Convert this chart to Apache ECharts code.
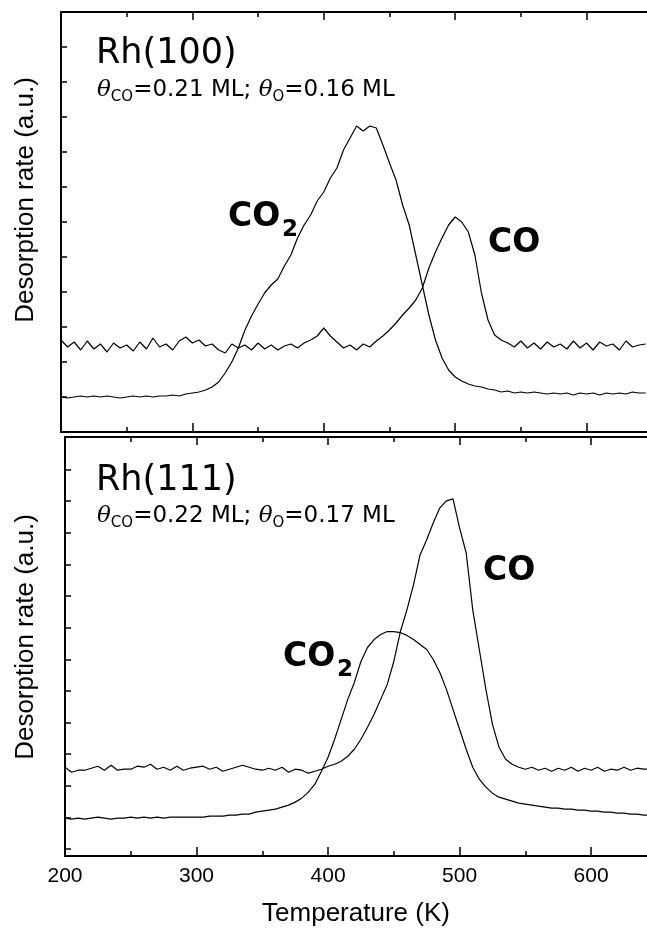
<!DOCTYPE html>
<html>
<head>
<meta charset="utf-8">
<script src="https://cdn.jsdelivr.net/npm/echarts@6/dist/echarts.min.js"></script>
<style>
html,body{margin:0;padding:0;background:#fff;}
#chart{width:647px;height:928px;}
</style>
</head>
<body>
<div id="chart"></div>
<script>
// temperature grid (K)
const temps = [
  200,205,210,215,220,225,230,235,240,245,
  250,255,260,265,270,275,280,285,290,295,
  300,305,310,315,320,325,330,335,340,345,
  350,355,360,365,370,375,380,385,390,395,
  400,405,410,415,420,425,430,435,440,445,
  450,455,460,465,470,475,480,485,490,495,
  500,505,510,515,520,525,530,535,540,545,
  550,555,560,565,570,575,580,585,590,595,
  600,605,610,615,620,625,630,635,640,645
]

// Rh(100) panel, a.u.
const rh100_co2 = [
  35,34,35,36,35,36,35,36,35,34,
  35,36,35,36,35,36,36,37,36,38,
  39,40,42,45,50,59,70,84,102,116,
  128,139,147,153,166,177,194,207,217,231,
  240,254,264,282,294,306,301,306,304,287,
  269,252,227,207,177,147,117,92,74,62,
  55,51,48,46,45,43,42,40,41,39,
  40,39,40,39,38,39,38,39,37,39,
  38,39,37,39,38,39,38,40,39,39
]
const rh100_co = [
  92,85,90,82,91,83,88,80,89,84,
  87,81,90,83,94,85,88,82,91,95,
  89,92,86,88,82,79,88,84,87,82,
  89,83,87,82,86,88,84,89,92,96,
  104,96,90,84,87,82,88,85,91,96,
  102,109,117,124,132,144,164,180,194,207,
  215,210,200,177,139,112,97,92,89,85,
  91,84,89,83,90,85,88,83,91,84,
  89,82,90,86,88,82,91,85,87,88
]

// Rh(111) panel, a.u.
const rh111_co2 = [
  31,30,31,30,31,32,31,30,31,31,
  32,31,32,31,32,31,32,32,32,32,
  32,32,33,33,33,34,34,35,35,37,
  38,39,40,42,44,47,51,57,65,78,
  92,110,130,150,167,188,202,210,215,218,
  218,217,214,210,205,200,190,177,160,140,
  120,100,82,70,62,56,52,50,48,46,
  45,44,43,42,41,41,40,40,39,39,
  38,38,37,37,36,36,35,35,34,34
]
const rh111_co = [
  82,77,79,79,81,83,79,84,79,80,
  80,83,82,85,80,82,79,83,79,81,
  82,83,80,82,78,80,82,84,82,80,
  79,81,79,82,77,80,79,76,78,80,
  83,85,88,93,100,110,122,135,150,165,
  188,218,240,265,295,310,327,342,349,351,
  322,297,240,200,160,125,102,90,85,82,
  80,82,79,81,78,81,79,82,78,81,
  79,82,78,80,79,82,79,81,80,80
]

const xLabels = [200,300,400,500,600]
const xMinor = [250,350,450,550,650]
const yTicksTop = [35,70,105,140,175,210,245,280,315,350,385]
const yTicksBottom = [0,31.7,63.4,95.1,126.8,158.5,190.2,221.9,253.6,285.3,317,348.7,380.4]

const pairs = arr => temps.map((t,i)=>[t,arr[i]])

const black = '#000'
const sans = 'Liberation Sans'

function xAxes(gridIndex, max, withLabels){
  const base = {
    type:'value', gridIndex, min:200, max,
    splitLine:{show:false},
    axisLabel:{show:false}
  }
  return [
    { ...base, position:'bottom',
      axisLine:{onZero:false, lineStyle:{color:black, width:2}},
      axisTick:{inside:true, length:9, customValues:xLabels, lineStyle:{color:black, width:1.5}},
      axisLabel: withLabels ? {show:true, customValues:xLabels, color:black, fontFamily:sans, fontSize:21, margin:10} : {show:false},
      name: withLabels ? 'Temperature (K)' : '',
      nameLocation:'middle', nameGap:45,
      nameTextStyle:{color:black, fontFamily:sans, fontSize:26}
    },
    { ...base, position:'bottom',
      axisLine:{show:false, onZero:false},
      axisTick:{inside:true, length:5, customValues:xMinor, lineStyle:{color:black, width:1.5}}
    },
    { ...base, position:'top',
      axisLine:{onZero:false, lineStyle:{color:black, width:2}},
      axisTick:{inside:true, length:8, customValues:xLabels, lineStyle:{color:black, width:1.5}}
    },
    { ...base, position:'top',
      axisLine:{show:false, onZero:false},
      axisTick:{inside:true, length:5, customValues:xMinor, lineStyle:{color:black, width:1.5}}
    }
  ]
}

function yAxis(gridIndex, min, max, ticks){
  return {
    type:'value', gridIndex, min, max,
    splitLine:{show:false},
    axisLabel:{show:false},
    axisLine:{show:true, onZero:false, lineStyle:{color:black, width:2}},
    axisTick:{show:true, inside:true, length:6, customValues:ticks, lineStyle:{color:black, width:1.5}}
  }
}

function line(xIdx, yIdx, arr){
  return {
    type:'line', xAxisIndex:xIdx, yAxisIndex:yIdx,
    data:pairs(arr), showSymbol:false, symbol:'none',
    lineStyle:{color:black, width:1.2},
    silent:true
  }
}

const thetaRich = {
  n:{fontFamily:'DejaVu Sans', fontSize:23, lineHeight:29, fill:black},
  t:{fontFamily:'DejaVu Serif', fontStyle:'italic', fontSize:23, lineHeight:29, fill:black},
  s:{fontFamily:'DejaVu Sans', fontSize:15, lineHeight:15, verticalAlign:'bottom', fill:black}
}
const bold = {fontFamily:'DejaVu Sans', fontWeight:'bold', fontSize:33}
const sub = {fontFamily:'DejaVu Sans', fontWeight:'bold', fontSize:23}

function txt(x, y, text, extra){
  return {type:'text', x, y, silent:true,
    style:{text, fill:black, align:'left', verticalAlign:'middle', ...extra}}
}
function ytitle(y){
  return {type:'text', x:26, y, rotation:Math.PI/2, silent:true,
    style:{text:'Desorption rate (a.u.)', fill:black, fontFamily:sans, fontSize:26, align:'center', verticalAlign:'middle'}}
}

const chart = echarts.init(document.getElementById('chart'))
chart.setOption({
  animation:false,
  backgroundColor:'#fff',
  grid:[
    {left:61, top:12, right:0, height:420},
    {left:65, top:437, right:0, height:420}
  ],
  xAxis:[...xAxes(0, 646, false), ...xAxes(1, 642.5, true)],
  yAxis:[yAxis(0, 0, 420, yTicksTop), yAxis(1, -7, 413, yTicksBottom)],
  series:[
    line(0, 0, rh100_co2),
    line(0, 0, rh100_co),
    line(4, 1, rh111_co2),
    line(4, 1, rh111_co)
  ],
  graphic:[
    txt(96, 54, 'Rh(100)', {fontFamily:'DejaVu Sans', fontSize:35}),
    txt(97, 90, '{t|θ}{s|CO}{n|=0.21 ML; }{t|θ}{s|O}{n|=0.16 ML}', {rich:thetaRich}),
    txt(228, 217, 'CO', bold),
    txt(282, 230, '2', sub),
    txt(488, 243, 'CO', bold),
    txt(96, 481, 'Rh(111)', {fontFamily:'DejaVu Sans', fontSize:35}),
    txt(97, 516, '{t|θ}{s|CO}{n|=0.22 ML; }{t|θ}{s|O}{n|=0.17 ML}', {rich:thetaRich}),
    txt(483, 571, 'CO', bold),
    txt(283, 657, 'CO', bold),
    txt(337, 670, '2', sub),
    ytitle(200),
    ytitle(637)
  ]
})
</script>
</body>
</html>
